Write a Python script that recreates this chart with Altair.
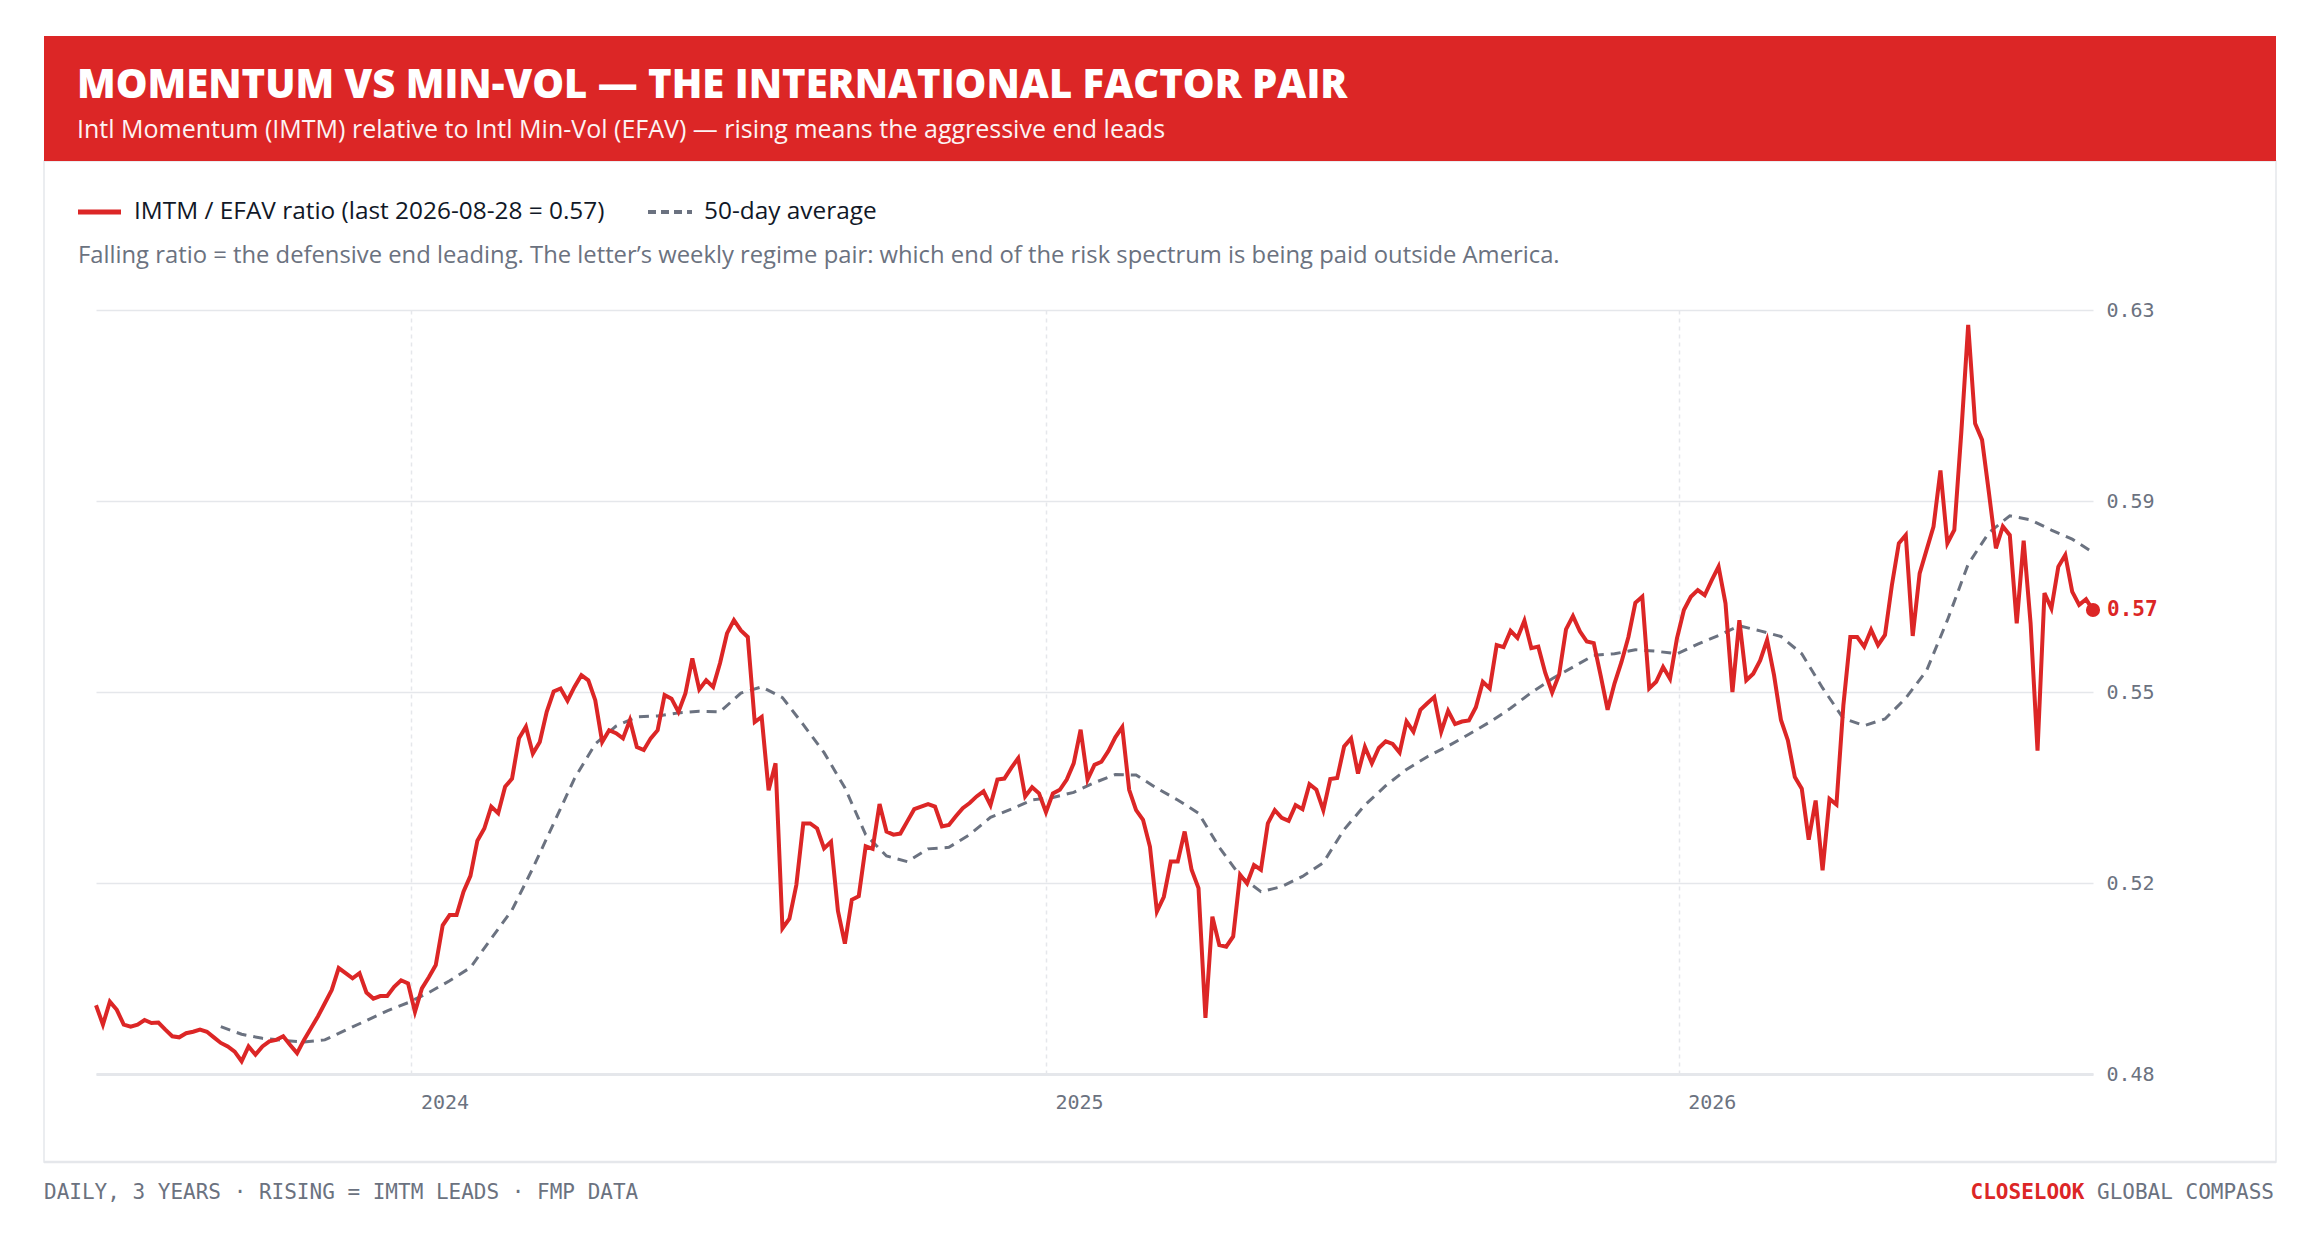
import altair as alt
import pandas as pd

RED = "#dc2626"
GRAY = "#6b7280"
GRID = "#e5e7eb"
INK = "#111827"
SANS = "Open Sans"
MONO = "DejaVu Sans Mono"

# IMTM / EFAV ratio, read every 4 calendar days, ending 2026-08-28
ratio_values = [
    0.4925, 0.4887, 0.4932, 0.4916, 0.4887, 0.4883, 0.4887, 0.4896, 0.4890, 0.4891,
    0.4877, 0.4864, 0.4862, 0.4870, 0.4873, 0.4877, 0.4873, 0.4862, 0.4851, 0.4844,
    0.4834, 0.4815, 0.4844, 0.4828, 0.4844, 0.4854, 0.4857, 0.4864, 0.4847, 0.4831,
    0.4857, 0.4880, 0.4903, 0.4929, 0.4955, 0.4998, 0.4988, 0.4978, 0.4988, 0.4950,
    0.4938, 0.4943, 0.4943, 0.4961, 0.4974, 0.4968, 0.4912, 0.4958, 0.4980, 0.5004,
    0.5082, 0.5102, 0.5102, 0.5148, 0.5179, 0.5248, 0.5272, 0.5315, 0.5302, 0.5354,
    0.5370, 0.5449, 0.5472, 0.5419, 0.5442, 0.5501, 0.5541, 0.5547, 0.5523, 0.5550,
    0.5573, 0.5563, 0.5524, 0.5442, 0.5465, 0.5459, 0.5449, 0.5485, 0.5432, 0.5426,
    0.5449, 0.5465, 0.5534, 0.5527, 0.5501, 0.5537, 0.5606, 0.5545, 0.5563, 0.5550,
    0.5597, 0.5655, 0.5681, 0.5661, 0.5648, 0.5481, 0.5491, 0.5347, 0.5400, 0.5076,
    0.5095, 0.5161, 0.5282, 0.5282, 0.5272, 0.5233, 0.5246, 0.5110, 0.5046, 0.5132,
    0.5139, 0.5237, 0.5232, 0.5320, 0.5266, 0.5260, 0.5262, 0.5286, 0.5310, 0.5315,
    0.5320, 0.5315, 0.5276, 0.5279, 0.5296, 0.5312, 0.5322, 0.5335, 0.5345, 0.5318,
    0.5368, 0.5370, 0.5391, 0.5410, 0.5335, 0.5353, 0.5341, 0.5304, 0.5341, 0.5348,
    0.5368, 0.5400, 0.5466, 0.5368, 0.5397, 0.5403, 0.5424, 0.5451, 0.5471, 0.5348,
    0.5308, 0.5289, 0.5236, 0.5109, 0.5138, 0.5207, 0.5207, 0.5266, 0.5191, 0.5155,
    0.4900, 0.5099, 0.5043, 0.5040, 0.5060, 0.5181, 0.5164, 0.5200, 0.5191, 0.5282,
    0.5308, 0.5293, 0.5287, 0.5318, 0.5310, 0.5359, 0.5348, 0.5308, 0.5369, 0.5371,
    0.5433, 0.5449, 0.5380, 0.5432, 0.5400, 0.5430, 0.5443, 0.5438, 0.5421, 0.5482,
    0.5462, 0.5505, 0.5518, 0.5530, 0.5462, 0.5503, 0.5477, 0.5482, 0.5484, 0.5510,
    0.5560, 0.5547, 0.5632, 0.5628, 0.5660, 0.5646, 0.5680, 0.5626, 0.5629, 0.5578,
    0.5539, 0.5574, 0.5663, 0.5689, 0.5659, 0.5639, 0.5636, 0.5572, 0.5505, 0.5557,
    0.5599, 0.5648, 0.5715, 0.5727, 0.5547, 0.5560, 0.5589, 0.5566, 0.5645, 0.5701,
    0.5727, 0.5740, 0.5730, 0.5759, 0.5786, 0.5714, 0.5540, 0.5681, 0.5563, 0.5576,
    0.5602, 0.5642, 0.5573, 0.5485, 0.5445, 0.5373, 0.5350, 0.5250, 0.5327, 0.5190,
    0.5330, 0.5319, 0.5514, 0.5648, 0.5648, 0.5629, 0.5662, 0.5632, 0.5652, 0.5750,
    0.5832, 0.5848, 0.5650, 0.5773, 0.5819, 0.5865, 0.5975, 0.5832, 0.5858, 0.6048,
    0.6261, 0.6067, 0.6035, 0.5930, 0.5822, 0.5865, 0.5848, 0.5675, 0.5837, 0.5675,
    0.5425, 0.5734, 0.5704, 0.5786, 0.5809, 0.5737, 0.5711, 0.5722, 0.5701,
]

# 50-day average, read every 12 calendar days, ending 2026-08-28
ma_values = [
    0.4883, 0.4868, 0.4860, 0.4856, 0.4853, 0.4857, 0.4876, 0.4895, 0.4914, 0.4930,
    0.4950, 0.4973, 0.4999, 0.5056, 0.5112, 0.5194, 0.5282, 0.5370, 0.5438, 0.5473,
    0.5491, 0.5493, 0.5499, 0.5502, 0.5501, 0.5538, 0.5550, 0.5529, 0.5476, 0.5421,
    0.5352, 0.5260, 0.5218, 0.5207, 0.5232, 0.5235, 0.5260, 0.5294, 0.5310, 0.5328,
    0.5333, 0.5343, 0.5362, 0.5378, 0.5377, 0.5351, 0.5328, 0.5302, 0.5235, 0.5179,
    0.5148, 0.5158, 0.5178, 0.5205, 0.5270, 0.5318, 0.5356, 0.5388, 0.5413, 0.5434,
    0.5457, 0.5481, 0.5508, 0.5539, 0.5566, 0.5589, 0.5612, 0.5615, 0.5623, 0.5620,
    0.5615, 0.5634, 0.5651, 0.5670, 0.5660, 0.5649, 0.5615, 0.5548, 0.5488, 0.5474,
    0.5487, 0.5528, 0.5582, 0.5681, 0.5791, 0.5853, 0.5886, 0.5878, 0.5858, 0.5840,
    0.5814,
]

y_ticks = [0.479, 0.5165, 0.554, 0.5915, 0.629]
year_ticks = [2024, 2025, 2026]
last_date_str = "2026-08-28"

title_text = "MOMENTUM VS MIN-VOL \u2014 THE INTERNATIONAL FACTOR PAIR"
subtitle_text = "Intl Momentum (IMTM) relative to Intl Min-Vol (EFAV) \u2014 rising means the aggressive end leads"
note_text = ("Falling ratio = the defensive end leading. The letter\u2019s weekly regime pair: "
             "which end of the risk spectrum is being paid outside America.")
footer_left = "DAILY, 3 YEARS \u00b7 RISING = IMTM LEADS \u00b7 FMP DATA"
footer_brand = "CLOSELOOK"
footer_rest = "GLOBAL COMPASS"
legend_ma = "50-day average"

ratio_dates = pd.date_range(end=last_date_str, periods=len(ratio_values), freq="4D")
ma_dates = pd.date_range(end=last_date_str, periods=len(ma_values), freq="12D")
ratio = pd.DataFrame({"date": ratio_dates, "value": ratio_values})
ma = pd.DataFrame({"date": ma_dates, "value": ma_values})
last = ratio.tail(1).copy()
legend_ratio = f"IMTM / EFAV ratio (last {last_date_str} = {ratio_values[-1]:.2f})"

d0, d1 = ratio_dates[0], ratio_dates[-1]
x_scale = alt.Scale(
    domain=[alt.DateTime(year=d0.year, month=d0.month, date=d0.day),
            alt.DateTime(year=d1.year, month=d1.month, date=d1.day)],
    nice=False,
)
y_scale = alt.Scale(domain=[y_ticks[0], y_ticks[-1]], nice=False, zero=False)

x_axis = alt.Axis(
    values=[alt.DateTime(year=y, month=1, date=1) for y in year_ticks],
    format="%Y", title=None, ticks=False,
    labelAlign="left", labelOffset=9, labelPadding=18,
    labelFont=MONO, labelFontSize=20, labelColor=GRAY,
    domain=True, domainColor=GRID, domainWidth=3,
    grid=True, gridColor=GRID, gridDash=[4, 4], gridWidth=1.5,
)
y_axis = alt.Axis(
    orient="right", values=y_ticks, format=".2f", title=None, ticks=False,
    domain=False, labelPadding=13, labelFont=MONO, labelFontSize=20, labelColor=GRAY,
    grid=True, gridColor=GRID, gridWidth=1.5,
)

one = pd.DataFrame({"k": [0]})
FOOT = 21
MONO_W = 0.602 * FOOT


def txt(text, x, y, size, color, font=SANS, weight="normal", align="left", baseline="alphabetic", opacity=1):
    return alt.Chart(pd.DataFrame({"t": [text]})).mark_text(
        align=align, baseline=baseline, font=font, fontSize=size, fontWeight=weight,
        color=color, opacity=opacity,
    ).encode(text="t:N", x=alt.value(x), y=alt.value(y))


card = alt.Chart(one).mark_rect(fillOpacity=0, stroke=GRID, strokeWidth=1.5).encode(
    x=alt.value(-52), x2=alt.value(2180), y=alt.value(-149), y2=alt.value(852))
card_bottom = alt.Chart(one).mark_rule(color=GRID, strokeWidth=2.5).encode(
    x=alt.value(-52), x2=alt.value(2180), y=alt.value(852))
header = alt.Chart(one).mark_rect(fill=RED).encode(
    x=alt.value(-52), x2=alt.value(2180), y=alt.value(-274), y2=alt.value(-149))

leg_red = alt.Chart(one).mark_rule(color=RED, strokeWidth=5).encode(
    x=alt.value(-18), x2=alt.value(25), y=alt.value(-98))
leg_ma = alt.Chart(one).mark_rule(color=GRAY, strokeWidth=4, strokeDash=[8, 5]).encode(
    x=alt.value(552), x2=alt.value(596), y=alt.value(-98))

ma_line = alt.Chart(ma).mark_line(color=GRAY, strokeWidth=3, strokeDash=[10, 7]).encode(
    x=alt.X("date:T", scale=x_scale, axis=x_axis),
    y=alt.Y("value:Q", scale=y_scale, axis=y_axis),
)
ratio_line = alt.Chart(ratio).mark_line(color=RED, strokeWidth=4).encode(
    x=alt.X("date:T", scale=x_scale), y=alt.Y("value:Q", scale=y_scale))
end_dot = alt.Chart(last).mark_circle(color=RED, size=200, opacity=1).encode(
    x=alt.X("date:T", scale=x_scale), y=alt.Y("value:Q", scale=y_scale))
end_label = alt.Chart(last).mark_text(
    align="left", baseline="middle", dx=14, font=MONO, fontSize=21, fontWeight="bold", color=RED
).encode(
    x=alt.X("date:T", scale=x_scale), y=alt.Y("value:Q", scale=y_scale),
    text=alt.Text("value:Q", format=".2f"),
)

chart = alt.layer(
    card, card_bottom, header,
    txt(title_text, -19, -212, 40, "white", weight=800),
    txt(subtitle_text, -19, -172, 25, "white", opacity=0.95),
    leg_red, txt(legend_ratio, 38, -98, 24.4, INK, baseline="middle"),
    leg_ma, txt(legend_ma, 608, -98, 24.4, INK, baseline="middle"),
    txt(note_text, -18, -47, 23.8, GRAY),
    ma_line, ratio_line, end_dot, end_label,
    txt(footer_left, -52, 883, FOOT, GRAY, font=MONO, baseline="middle"),
    txt(footer_rest, 2178, 883, FOOT, GRAY, font=MONO, align="right", baseline="middle"),
    txt(footer_brand, 2178 - 15 * MONO_W, 883, FOOT, RED, font=MONO, weight="bold",
        align="right", baseline="middle"),
).properties(
    width=1997, height=764,
    padding={"left": 88, "top": 302, "right": 190, "bottom": 150},
    autosize=alt.AutoSizeParams(type="none"),
    background="white",
).configure_view(stroke=None)

chart.save("out.html", embed_options={"renderer": "svg", "actions": False})
